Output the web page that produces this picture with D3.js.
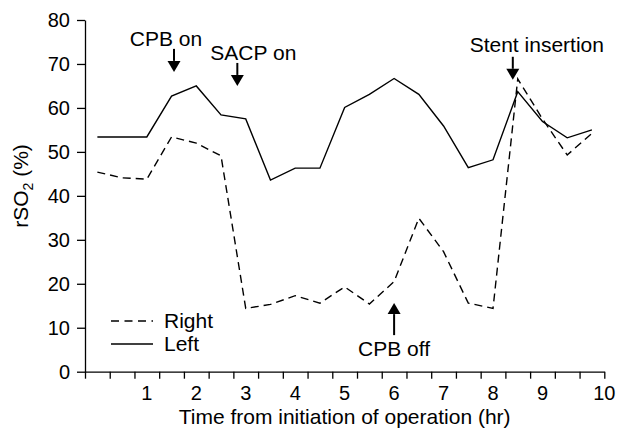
<!DOCTYPE html>
<html>

<head>
	<title>rSO2 during operation</title>
	<style>
		body {
			margin: 0;
			background: #fff;
		}
		svg text {
			font-family: "Liberation Sans", Arial, sans-serif;
			fill: #000;
		}
	</style>
</head>

<body>
	<script src="https://d3js.org/d3.v7.min.js"></script>
	<script type="text/javascript">
		// time points (hr), one every half hour
		var hours = [0, 0.5, 1, 1.5, 2, 2.5, 3, 3.5, 4, 4.5, 5, 5.5, 6, 6.5, 7, 7.5, 8, 8.5, 9, 9.5, 10];
		var rightSO2 = [45.4, 44.1, 43.8, 53.4, 52.0, 49.1, 14.4, 15.3, 17.3, 15.6, 19.3, 15.4, 20.5, 34.9, 27.3, 15.6, 14.4, 66.6, 57.5, 49.3, 54.2];
		var leftSO2 = [53.4, 53.4, 53.4, 62.7, 65.0, 58.4, 57.5, 43.6, 46.3, 46.3, 60.1, 63.1, 66.7, 63.1, 55.9, 46.4, 48.2, 63.7, 56.9, 53.2, 55.0];
		var yTicks = [0, 10, 20, 30, 40, 50, 60, 70, 80];
		var xLabels = ["1", "2", "3", "4", "5", "6", "7", "8", "9", "10"];
		var xLabelHours = [1, 2, 3, 4, 5, 6, 7, 8, 9, 10.25];
		// event markers
		var eventNames = ["CPB on", "SACP on", "Stent insertion", "CPB off"];
		var eventHours = [1.55, 2.83, 8.4, 6];
		var eventTips = [68.2, 65, 66.4, 15.6];

		var width = 619, height = 441;
		var svg = d3.select("body").append("svg")
			.attr("width", width)
			.attr("height", height);

		var x = d3.scaleLinear().domain([-0.25, 10.25]).range([85, 604.3]);
		var y = d3.scaleLinear().domain([0, 80]).range([371.7, 20]);

		// y axis
		var yAxis = svg.append("g")
			.attr("transform", "translate(" + x(-0.25) + ",0)")
			.call(d3.axisLeft(y).tickValues(yTicks).tickSize(8).tickPadding(7).tickSizeOuter(0));
		yAxis.selectAll("text").style("font-size", "20px").style("font-family", '"Liberation Sans", Arial, sans-serif');

		// x axis, ticks between the half hour points
		var edges = hours.map(function(h) { return h - 0.25; }).concat([10.25]);
		svg.append("g")
			.attr("transform", "translate(0," + y(0) + ")")
			.call(d3.axisBottom(x).tickValues(edges).tickSize(7).tickFormat("").tickSizeOuter(0));
		svg.selectAll(".domain, .tick line").attr("stroke", "#000").attr("stroke-width", 1.3);

		svg.append("g").selectAll("text")
			.data(xLabels)
			.enter().append("text")
			.attr("x", function(d, i) { return x(xLabelHours[i]); })
			.attr("y", 400)
			.attr("text-anchor", "middle")
			.style("font-size", "20px")
			.text(function(d) { return d; });

		// axis titles
		svg.append("text")
			.attr("x", x(5))
			.attr("y", 424)
			.attr("text-anchor", "middle")
			.style("font-size", "21px")
			.text("Time from initiation of operation (hr)");

		var yTitle = svg.append("text")
			.attr("transform", "translate(28,186) rotate(-90)")
			.attr("text-anchor", "middle")
			.style("font-size", "21px");
		yTitle.append("tspan").text("rSO");
		yTitle.append("tspan").attr("dy", 5).style("font-size", "14px").text("2");
		yTitle.append("tspan").attr("dy", -5).text(" (%)");

		// lines
		var line = d3.line()
			.x(function(d, i) { return x(hours[i]); })
			.y(function(d) { return y(d); });

		svg.append("path")
			.datum(leftSO2)
			.attr("d", line)
			.attr("fill", "none")
			.attr("stroke", "#000")
			.attr("stroke-width", 1.4);

		svg.append("path")
			.datum(rightSO2)
			.attr("d", line)
			.attr("fill", "none")
			.attr("stroke", "#000")
			.attr("stroke-width", 1.4)
			.attr("stroke-dasharray", "8,5");

		// legend
		var legend = svg.append("g");
		legend.append("line")
			.attr("x1", 111).attr("x2", 153).attr("y1", 321).attr("y2", 321)
			.attr("stroke", "#000").attr("stroke-width", 1.4).attr("stroke-dasharray", "8,5.5");
		legend.append("line")
			.attr("x1", 111).attr("x2", 153).attr("y1", 344).attr("y2", 344)
			.attr("stroke", "#000").attr("stroke-width", 1.4);
		legend.append("text").attr("x", 164).attr("y", 328).style("font-size", "21px").text("Right");
		legend.append("text").attr("x", 164).attr("y", 351).style("font-size", "21px").text("Left");

		// event arrows: [text dx, text baseline above tip, shaft length]
		var eventLayout = [
			{ dx: -8, textUp: 26, shaft: 23 },
			{ dx: 16, textUp: 26, shaft: 23 },
			{ dx: 24, textUp: 28, shaft: 23 },
			{ dx: 0, textUp: -53, shaft: 32 }
		];

		eventNames.forEach(function(name, i) {
			var ax = x(eventHours[i]);
			var tip = y(eventTips[i]);
			var lay = eventLayout[i];
			var dir = lay.textUp > 0 ? -1 : 1; // -1: arrow points down
			var headLen = 11, headW = 6.5;
			var base = tip + dir * headLen;
			var g = svg.append("g");
			g.append("line")
				.attr("x1", ax).attr("x2", ax)
				.attr("y1", base).attr("y2", tip + dir * lay.shaft)
				.attr("stroke", "#000").attr("stroke-width", 2);
			g.append("path")
				.attr("d", "M" + ax + "," + tip + "L" + (ax - headW) + "," + base + "L" + (ax + headW) + "," + base + "Z")
				.attr("fill", "#000");
			g.append("text")
				.attr("x", ax + lay.dx)
				.attr("y", tip - lay.textUp)
				.attr("text-anchor", "middle")
				.style("font-size", "21px")
				.text(name);
		});
	</script>
</body>

</html>
